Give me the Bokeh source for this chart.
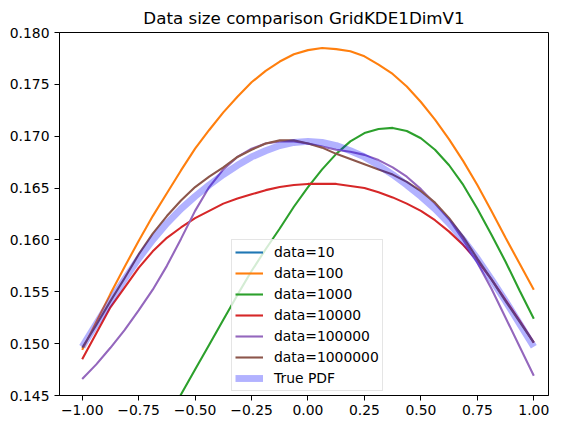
from bokeh.plotting import figure
from bokeh.models import Range1d, FixedTicker, Legend, LegendItem
from bokeh.embed import file_html
from bokeh.resources import INLINE

title_text = "Data size comparison GridKDE1DimV1"

x_vals = [-1.0, -0.9375, -0.875, -0.8125, -0.75, -0.6875, -0.625, -0.5625, -0.5,
          -0.4375, -0.375, -0.3125, -0.25, -0.1875, -0.125, -0.0625, 0.0,
          0.0625, 0.125, 0.1875, 0.25, 0.3125, 0.375, 0.4375, 0.5,
          0.5625, 0.625, 0.6875, 0.75, 0.8125, 0.875, 0.9375, 1.0]

# data=10 lies below the visible window in the reference
data_10 = [0.1250, 0.1270, 0.1290, 0.1305, 0.1320, 0.1332, 0.1342, 0.1352, 0.1360,
           0.1367, 0.1372, 0.1377, 0.1381, 0.1384, 0.1386, 0.1387, 0.1388,
           0.1387, 0.1386, 0.1384, 0.1381, 0.1377, 0.1372, 0.1367, 0.1360,
           0.1352, 0.1342, 0.1332, 0.1320, 0.1305, 0.1290, 0.1270, 0.1250]
data_100 = [0.1494, 0.1521, 0.1548, 0.1574, 0.1599, 0.1623, 0.1645, 0.1667, 0.1688,
            0.1706, 0.1723, 0.1738, 0.1752, 0.1763, 0.1772, 0.1779, 0.1783,
            0.1785, 0.1784, 0.1782, 0.1777, 0.1769, 0.1760, 0.1748, 0.1733,
            0.1716, 0.1697, 0.1676, 0.1653, 0.1628, 0.1602, 0.1577, 0.1552]
data_1000 = [0.1283, 0.1306, 0.1330, 0.1353, 0.1378, 0.1402, 0.1427, 0.1451, 0.1475,
             0.1499, 0.1523, 0.1547, 0.1570, 0.1591, 0.1611, 0.1632, 0.1651,
             0.1668, 0.1683, 0.1695, 0.1703, 0.1707, 0.1708, 0.1705, 0.1698,
             0.1687, 0.1672, 0.1653, 0.1630, 0.1605, 0.1579, 0.1551, 0.1524]
data_10000 = [0.1485, 0.1510, 0.1535, 0.1554, 0.1573, 0.1589, 0.1602, 0.1612, 0.1621,
              0.1628, 0.1635, 0.1640, 0.1644, 0.1648, 0.1651, 0.1653, 0.1654,
              0.1654, 0.1654, 0.1652, 0.1650, 0.1646, 0.1641, 0.1635, 0.1628,
              0.1619, 0.1608, 0.1595, 0.1580, 0.1562, 0.1542, 0.1522, 0.1501]
data_100000 = [0.1466, 0.1480, 0.1496, 0.1513, 0.1532, 0.1552, 0.1575, 0.1601, 0.1628,
               0.1651, 0.1668, 0.1680, 0.1688, 0.1693, 0.1695, 0.1695, 0.1693,
               0.1690, 0.1687, 0.1685, 0.1682, 0.1677, 0.1670, 0.1661, 0.1649,
               0.1635, 0.1620, 0.1600, 0.1578, 0.1553, 0.1525, 0.1497, 0.1469]
data_1000000 = [0.1496, 0.1518, 0.1541, 0.1563, 0.1586, 0.1606, 0.1623, 0.1638, 0.1651,
                0.1661, 0.1670, 0.1680, 0.1687, 0.1693, 0.1696, 0.1696, 0.1693,
                0.1689, 0.1683, 0.1678, 0.1673, 0.1668, 0.1663, 0.1656, 0.1647,
                0.1636, 0.1621, 0.1603, 0.1582, 0.1562, 0.1541, 0.1521, 0.1501]
true_pdf = [0.1497, 0.1519, 0.1541, 0.1562, 0.1582, 0.1600, 0.1616, 0.1630, 0.1642,
            0.1653, 0.1663, 0.1672, 0.1680, 0.1686, 0.1691, 0.1694, 0.1695,
            0.1694, 0.1691, 0.1686, 0.1680, 0.1672, 0.1663, 0.1653, 0.1642,
            0.1630, 0.1616, 0.1600, 0.1582, 0.1562, 0.1541, 0.1519, 0.1497]

series_labels = ["data=10", "data=100", "data=1000", "data=10000",
                 "data=100000", "data=1000000"]
series_values = [data_10, data_100, data_1000, data_10000, data_100000, data_1000000]
series_colors = ["#1f77b4", "#ff7f0e", "#2ca02c", "#d62728", "#9467bd", "#8c564b"]
true_label = "True PDF"

x_ticks = [-1.0, -0.75, -0.5, -0.25, 0.0, 0.25, 0.5, 0.75, 1.0]
x_tick_labels = ["\u22121.00", "\u22120.75", "\u22120.50", "\u22120.25", "0.00",
                 "0.25", "0.50", "0.75", "1.00"]
y_ticks = [0.145, 0.150, 0.155, 0.160, 0.165, 0.170, 0.175, 0.180]
y_tick_labels = ["0.145", "0.150", "0.155", "0.160", "0.165", "0.170", "0.175", "0.180"]

FONT = "DejaVu Sans"

p = figure(width=549, height=419, output_backend="svg", toolbar_location=None,
           x_range=Range1d(-1.1005, 1.0651), y_range=Range1d(0.145, 0.180),
           min_border_left=59, min_border_right=1, min_border_top=25,
           min_border_bottom=24)

p.title.text = title_text
p.title.align = "center"
p.title.offset = 4
p.title.text_font = FONT
p.title.text_font_size = "16.7px"
p.title.text_font_style = "normal"
p.title.text_color = "black"

p.xgrid.visible = False
p.ygrid.visible = False
p.outline_line_color = "black"
p.outline_line_width = 1
p.outline_line_alpha = 1.0
p.background_fill_color = "white"
p.border_fill_color = "white"

for ax, ticks, labels in ((p.xaxis[0], x_ticks, x_tick_labels),
                          (p.yaxis[0], y_ticks, y_tick_labels)):
    ax.ticker = FixedTicker(ticks=ticks)
    ax.major_label_overrides = {t: l for t, l in zip(ticks, labels)}
    ax.minor_tick_line_color = None
    ax.major_tick_in = 0
    ax.major_tick_out = 5
    ax.major_tick_line_color = "black"
    ax.axis_line_color = "black"
    ax.major_label_text_font = FONT
    ax.major_label_text_font_size = "13.9px"
    ax.major_label_text_color = "black"
p.xaxis.major_label_standoff = 4
p.yaxis.major_label_standoff = 5

items = []
for lab, vals, col in zip(series_labels, series_values, series_colors):
    r = p.line(x_vals, vals, line_color=col, line_width=2.1)
    items.append(LegendItem(label=lab, renderers=[r]))
r_true = p.line(x_vals, true_pdf, line_color="blue", line_alpha=0.3, line_width=6.9)
items.append(LegendItem(label=true_label, renderers=[r_true]))

legend = Legend(items=items, location=(172, 4))
legend.label_text_font = FONT
legend.label_text_font_size = "13.9px"
legend.label_text_color = "black"
legend.glyph_width = 28
legend.glyph_height = 18
legend.label_height = 18
legend.label_standoff = 11
legend.spacing = 3
legend.padding = 3
legend.margin = 0
legend.border_line_color = "#cccccc"
legend.border_line_width = 1
legend.background_fill_alpha = 0.8
p.add_layout(legend, "center")

open("out.html", "w").write(file_html(p, INLINE))
